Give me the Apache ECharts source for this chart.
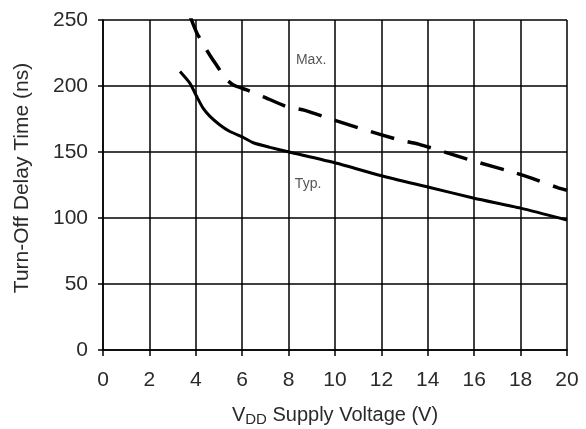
<!DOCTYPE html>
<html><head><meta charset="utf-8">
<script src="https://cdn.jsdelivr.net/npm/echarts@6/dist/echarts.min.js"></script>
<style>html,body{margin:0;padding:0;background:#fff}#c{width:586px;height:429px}</style>
</head><body><div id="c"></div>
<script>
var xTicks = [0,2,4,6,8,10,12,14,16,18,20];
var yTicks = [0,50,100,150,200,250];
var typX = [3.32,3.75,4.04,4.32,4.61,5.04,5.47,6.05,6.48,7.2,8.02,10.07,12.0,14.0,16.0,18.0,20.0];
var typY = [211,202,192,183,177,170.5,165.5,161,157,153.5,150,141.5,132,123.5,115,107.5,98.5];
var maxX = [3.75,4.05,4.6,5.0,5.2,5.6,6.2,6.9,7.9,8.7,10.0,11.15,12.8,13.6,16.0,17.8,18.5,19.6,20.0];
var maxY = [253,240,223.5,213,207,201,197,192,184.5,181.5,174,167.5,159,156,143,134,130,123,121];
var labelNames = ['Max.','Typ.'];
var labelX = [8.97,8.84];
var labelY = [219.5,125.5];

function pairs(xs, ys){ return xs.map(function(x,i){ return [x, ys[i]]; }); }
var txt = '#2a2a2a';
var chart = echarts.init(document.getElementById('c'));
chart.setOption({
  animation:false,
  backgroundColor:'#fff',
  grid:{left:103,right:19,top:20,bottom:79,containLabel:false,outerBoundsMode:'none'},
  xAxis:{type:'value',min:0,max:20,interval:2,
    name:'{v|V}{s|DD}{v| Supply Voltage (V)}',nameLocation:'middle',nameGap:53,
    nameTextStyle:{rich:{v:{fontFamily:'Liberation Sans',fontSize:20,color:txt},s:{fontFamily:'Liberation Sans',fontSize:15,color:txt,padding:[9,0,0,0]}}},
    axisLine:{show:true,lineStyle:{color:'#000',width:1.5}},
    axisTick:{show:true,length:6,inside:false,lineStyle:{color:'#000',width:1.5}},
    axisLabel:{fontFamily:'Liberation Sans',fontSize:21,color:txt,margin:20},
    splitLine:{show:true,lineStyle:{color:'#000',width:1.5}}},
  yAxis:{type:'value',min:0,max:250,interval:50,
    name:'Turn-Off Delay Time (ns)',nameLocation:'middle',nameGap:70,
    nameTextStyle:{fontFamily:'Liberation Sans',fontSize:21,color:txt,padding:[0,0,0,14]},
    axisLine:{show:true,lineStyle:{color:'#000',width:1.5}},
    axisTick:{show:true,length:5,lineStyle:{color:'#000',width:1.5}},
    axisLabel:{fontFamily:'Liberation Sans',fontSize:21,color:txt,margin:15},
    splitLine:{show:true,lineStyle:{color:'#000',width:1.5}}},
  series:[
    {type:'line',data:pairs(typX,typY),smooth:0.2,symbol:'none',lineStyle:{color:'#000',width:3}},
    {type:'line',data:pairs(maxX,maxY),smooth:0.2,symbol:'none',lineStyle:{color:'#000',width:3.5,type:[24,14]}},
    {type:'scatter',symbolSize:0,data:labelX.map(function(x,i){return {value:[x,labelY[i]],name:labelNames[i]};}),
      label:{show:true,position:'inside',formatter:'{b}',fontFamily:'Liberation Sans',fontSize:14,color:txt}}
  ]
});
</script></body></html>
